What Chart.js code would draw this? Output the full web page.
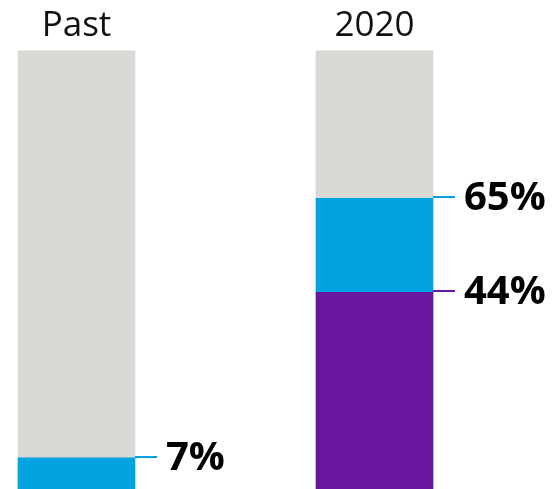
<!DOCTYPE html>
<html>
<head>
<meta charset="utf-8">
<script src="https://cdn.jsdelivr.net/npm/chart.js@4.4.1/dist/chart.umd.min.js"></script>
<style>
  html, body { margin: 0; padding: 0; background: #fff; }
  canvas { display: block; }
</style>
</head>
<body>
<canvas id="chart" width="553" height="489"></canvas>
<script>
// ---------- data ----------
const categories = ['Past', '2020'];
const purpleShare = [null, 44]; // bottom segment
const blueShare = [7, 21];      // stacked on purple (2020 reaches 65)
const greyRest = [91, 33];      // remaining track up to the bar top

// callouts: which bar, value on the axis, label
const calloutCategory = [0, 1, 1];
const calloutValue = [7, 65, 44];
const calloutText = ['7%', '65%', '44%'];

// ---------- style ----------
const GREY = '#d8d8d4';
const BLUE = '#00a3e0';
const PURPLE = '#6816a0';
const calloutColor = [BLUE, BLUE, PURPLE];
const BAR_W = 117;

// category labels above bars + leader lines with values
const labelsPlugin = {
    id: 'labels',
    afterDatasetsDraw(chart) {
        const ctx = chart.ctx;
        const x = chart.scales.x;
        const y = chart.scales.y;

        ctx.save();
        ctx.fillStyle = '#111';
        ctx.font = '35px "Open Sans"';
        ctx.textAlign = 'center';
        ctx.textBaseline = 'alphabetic';
        categories.forEach((c, i) => {
            ctx.fillText(c, x.getPixelForValue(i), 36);
        });

        calloutValue.forEach((v, i) => {
            const cx = x.getPixelForValue(calloutCategory[i]);
            const py = Math.round(y.getPixelForValue(v)) - 1;
            const x0 = cx + BAR_W / 2;
            ctx.strokeStyle = calloutColor[i];
            ctx.lineWidth = 2;
            ctx.beginPath();
            ctx.moveTo(x0, py);
            ctx.lineTo(x0 + 22, py);
            ctx.stroke();

            ctx.fillStyle = '#000';
            ctx.font = 'bold 40px "Open Sans"';
            ctx.textAlign = 'left';
            ctx.textBaseline = 'middle';
            ctx.fillText(calloutText[i], x0 + 31, py + 2);
        });
        ctx.restore();
    }
};

function draw() {
    new Chart(document.getElementById('chart'), {
        type: 'bar',
        data: {
            labels: categories,
            datasets: [
                { data: purpleShare, backgroundColor: PURPLE },
                { data: blueShare, backgroundColor: BLUE },
                { data: greyRest, backgroundColor: GREY }
            ]
        },
        options: {
            responsive: false,
            animation: false,
            events: [],
            layout: { padding: { top: 42, bottom: 0, left: 76.5, right: 178.5 } },
            datasets: { bar: { barThickness: BAR_W, borderWidth: 0, clip: false } },
            plugins: { legend: { display: false }, tooltip: { enabled: false } },
            scales: {
                x: { stacked: true, offset: false, display: false },
                y: { stacked: true, min: 0, max: 100, display: false }
            }
        },
        plugins: [labelsPlugin]
    });
}

Promise.all([
    document.fonts.load('35px "Open Sans"'),
    document.fonts.load('bold 40px "Open Sans"')
]).then(draw, draw);
</script>
</body>
</html>
